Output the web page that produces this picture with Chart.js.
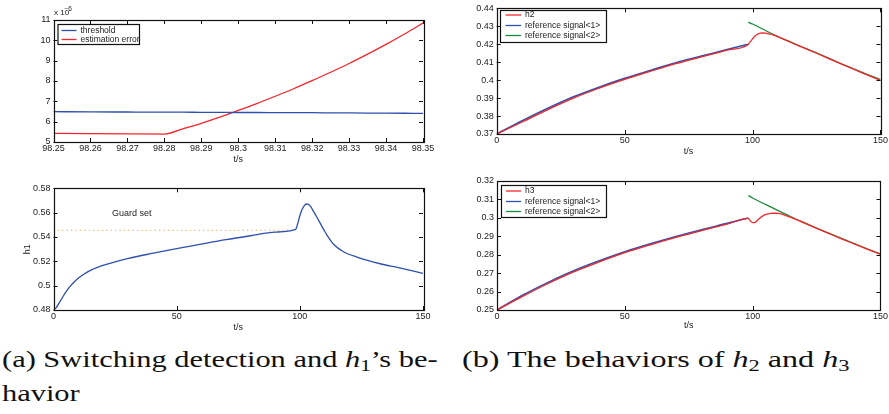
<!DOCTYPE html>
<html>
<head>
<meta charset="utf-8">
<script src="https://cdn.jsdelivr.net/npm/chart.js@4.4.0/dist/chart.umd.min.js"></script>
<style>
  html, body { margin: 0; padding: 0; background: #fff; }
  body { width: 889px; height: 414px; position: relative; overflow: hidden; }
  canvas { position: absolute; }
  .cap { position: absolute; font-family: "Liberation Serif", serif; font-size: 24px; line-height: 1;
         color: #111; white-space: nowrap; transform-origin: 0 50%; }
  .cap sub { font-size: 0.7em; vertical-align: -0.25em; line-height: 0; }
</style>
</head>
<body>
<canvas id="c1" width="440" height="165" style="left:0;top:0"></canvas>
<canvas id="c2" width="440" height="170" style="left:0;top:165px"></canvas>
<canvas id="c3" width="444" height="165" style="left:445px;top:0"></canvas>
<canvas id="c4" width="444" height="170" style="left:445px;top:165px"></canvas>

<div class="cap" id="capA" style="left:2px;top:347px">(a) Switching detection and <i>h</i><sub>1</sub>’s be-</div>
<div class="cap" id="capA2" style="left:2px;top:381px">havior</div>
<div class="cap" id="capB" style="left:462px;top:347px">(b) The behaviors of <i>h</i><sub>2</sub> and <i>h</i><sub>3</sub></div>

<script>
// switching detection, values in units of 1e-6
const detT = [98.25, 98.26, 98.27, 98.28, 98.285, 98.29, 98.295, 98.30, 98.305, 98.31, 98.315, 98.32, 98.325, 98.33, 98.335, 98.34, 98.345, 98.35];
const threshold = [6.49, 6.48, 6.475, 6.47, 6.465, 6.46, 6.455, 6.45, 6.45, 6.445, 6.44, 6.44, 6.435, 6.43, 6.425, 6.42, 6.415, 6.41];
const estError = [5.42, 5.41, 5.40, 5.39, 5.65, 5.92, 6.22, 6.55, 6.89, 7.25, 7.62, 8.02, 8.43, 8.86, 9.32, 9.80, 10.31, 10.85];

// h1
const h1T = [0, 1, 2, 3, 4, 5, 6, 7, 8, 10, 12, 15, 20, 25, 30, 40, 50, 60, 70, 80, 90, 98.3,
             99, 100, 101, 102, 102.6, 103.5, 104.5, 105.6, 107, 108.3, 110, 111, 113.7, 117.7, 123.2, 132.6, 140, 150];
const h1 = [0.480, 0.4818, 0.4848, 0.4882, 0.4915, 0.4946, 0.4975, 0.5000, 0.5022, 0.5060, 0.5090, 0.5125, 0.5166, 0.5196, 0.5222,
            0.5265, 0.5305, 0.5342, 0.5378, 0.5410, 0.5440, 0.5462,
            0.5500, 0.5575, 0.5630, 0.5662, 0.5671, 0.5668, 0.5647, 0.5608, 0.5560, 0.5512, 0.5450, 0.5416, 0.5340, 0.5279, 0.5235,
            0.5180, 0.5148, 0.5101];
const guardT = [0, 98.3];
const guard = [0.5455, 0.5455];

// reference signals
const refT1 = [0, 10, 20, 30, 40, 50, 60, 70, 80, 90, 98.3];
const refT2 = [98.3, 100, 105, 110, 115, 120, 125, 130, 135, 140, 145, 150];

// h2
const h2Ref1 = [0.3700, 0.3774, 0.3843, 0.3907, 0.3961, 0.4010, 0.4054, 0.4097, 0.4134, 0.4171, 0.4200];
const h2Ref2 = [0.4323, 0.4313, 0.4277, 0.4243, 0.4212, 0.4182, 0.4152, 0.4121, 0.4090, 0.4060, 0.4031, 0.4003];
const h2T = [0, 10, 20, 30, 40, 50, 60, 70, 80, 90, 98.3, 99, 100, 101, 102, 103, 104, 105, 106, 107, 108,
             110, 115, 120, 125, 130, 135, 140, 145, 150];
const h2 = [0.3700, 0.3767, 0.3836, 0.3900, 0.3955, 0.4004, 0.4049, 0.4092, 0.4130, 0.4167, 0.4199,
            0.4212, 0.4230, 0.4247, 0.4257, 0.4262, 0.4263, 0.4262, 0.4259, 0.4256, 0.4252,
            0.4241, 0.4210, 0.4180, 0.4150, 0.4119, 0.4088, 0.4058, 0.4028, 0.3999];

// h3
const h3Ref1 = [0.2500, 0.2580, 0.2650, 0.2713, 0.2767, 0.2816, 0.2859, 0.2899, 0.2936, 0.2970, 0.2999];
const h3Ref2 = [0.3121, 0.3108, 0.3073, 0.3039, 0.3006, 0.2975, 0.2945, 0.2916, 0.2887, 0.2859, 0.2831, 0.2804];
const h3T = [0, 10, 20, 30, 40, 50, 60, 70, 80, 90, 98.3, 99, 100, 101, 102, 103, 104, 105, 106, 107, 108,
             109, 110, 111, 112, 113, 114, 115, 120, 125, 130, 135, 140, 145, 150];
const h3 = [0.2500, 0.2574, 0.2644, 0.2707, 0.2761, 0.2811, 0.2854, 0.2894, 0.2931, 0.2966, 0.2997,
            0.2985, 0.2974, 0.2976, 0.2988, 0.3001, 0.3011, 0.3017, 0.3021, 0.3024, 0.3025,
            0.3025, 0.3024, 0.3021, 0.3017, 0.3012, 0.3007, 0.3003, 0.2973, 0.2943, 0.2914, 0.2885, 0.2857, 0.2829, 0.2802];

const BLUE = '#2f50ad', RED = '#f2262b', GREEN = '#1c8a3d', ORANGE = '#f5a24a';

Chart.defaults.font.family = '"Liberation Sans", Arial, sans-serif';
Chart.defaults.font.size = 9;
Chart.defaults.color = '#222';

const pts = (t, v) => t.map((x, i) => ({ x, y: v[i] }));
const fmt = v => String(Number(v.toFixed(4)));

// matlab-like frame, inward ticks, boxed legend and text notes
const matlabBox = {
  id: 'matlabBox',
  afterDraw(chart, args, opts) {
    const { ctx, chartArea: a, scales: { x, y } } = chart;
    ctx.save();
    ctx.strokeStyle = '#111';
    ctx.lineWidth = 1;
    ctx.beginPath();
    x.ticks.forEach(t => {
      const px = Math.round(x.getPixelForValue(t.value)) + 0.5;
      ctx.moveTo(px, a.bottom); ctx.lineTo(px, a.bottom - 4);
      ctx.moveTo(px, a.top); ctx.lineTo(px, a.top + 4);
    });
    y.ticks.forEach(t => {
      const py = Math.round(y.getPixelForValue(t.value)) + 0.5;
      ctx.moveTo(a.left, py); ctx.lineTo(a.left + 4, py);
      ctx.moveTo(a.right, py); ctx.lineTo(a.right - 4, py);
    });
    ctx.stroke();
    ctx.lineWidth = 1.2;
    ctx.strokeRect(Math.round(a.left) + 0.5, Math.round(a.top) + 0.5,
                   Math.round(a.right - a.left), Math.round(a.bottom - a.top));

    const lg = opts.legend;
    if (lg) {
      const [x0, y0, x1, y1] = lg.box;
      ctx.fillStyle = '#fff';
      ctx.fillRect(x0, y0, x1 - x0, y1 - y0);
      ctx.strokeStyle = '#111';
      ctx.lineWidth = 1.2;
      ctx.strokeRect(x0 + 0.5, y0 + 0.5, x1 - x0, y1 - y0);
      ctx.font = '8.5px "Liberation Sans", Arial, sans-serif';
      ctx.textBaseline = 'middle';
      ctx.textAlign = 'left';
      const items = chart.data.datasets.filter(d => d.label);
      items.forEach((d, i) => {
        const ry = lg.rows[i];
        ctx.strokeStyle = d.borderColor;
        ctx.lineWidth = 1.3;
        ctx.beginPath();
        ctx.moveTo(lg.lineX[0], ry); ctx.lineTo(lg.lineX[1], ry);
        ctx.stroke();
        ctx.fillStyle = '#222';
        ctx.fillText(d.label, lg.textX, ry);
      });
    }

    (opts.notes || []).forEach(n => {
      ctx.fillStyle = '#222';
      ctx.textBaseline = 'middle';
      ctx.textAlign = 'left';
      ctx.font = n.font || '9px "Liberation Sans", Arial, sans-serif';
      const px = n.data ? x.getPixelForValue(n.data[0]) : a.left + n.dx;
      const py = n.data ? y.getPixelForValue(n.data[1]) : a.top + n.dy;
      ctx.fillText(n.text, px, py);
    });
    ctx.restore();
  }
};

function panel(id, cfg) {
  return new Chart(document.getElementById(id), {
    type: 'line',
    data: { datasets: cfg.datasets },
    options: {
      responsive: false,
      animation: false,
      layout: { padding: { top: cfg.top, right: cfg.right, left: 0, bottom: 0 } },
      elements: {
        point: { radius: 0 },
        line: { borderWidth: 1.3, cubicInterpolationMode: 'monotone' }
      },
      plugins: { legend: { display: false }, tooltip: { enabled: false }, matlabBox: cfg.box },
      scales: {
        x: {
          type: 'linear', min: cfg.x[0], max: cfg.x[1],
          ticks: { stepSize: cfg.x[2], padding: 1, autoSkip: false, maxRotation: 0, callback: fmt },
          grid: { display: false, drawTicks: false }, border: { display: false },
          title: { display: true, text: 't/s', padding: { top: 0, bottom: cfg.titlePad } },
          afterFit: s => { s.height = cfg.xH; }
        },
        y: {
          min: cfg.y[0], max: cfg.y[1],
          ticks: { stepSize: cfg.y[2], padding: 3, autoSkip: false, callback: fmt },
          grid: { display: false, drawTicks: false }, border: { display: false },
          title: cfg.yTitle ? { display: true, text: cfg.yTitle, padding: { top: cfg.yTitlePad, bottom: 0 } } : { display: false },
          afterFit: s => { s.width = cfg.yW; }
        }
      }
    },
    plugins: [matlabBox]
  });
}

panel('c1', {
  top: 20, right: 17, xH: 23, yW: 53.5, titlePad: 0,
  x: [98.25, 98.35, 0.01], y: [5, 11, 1],
  datasets: [
    { label: 'threshold', data: pts(detT, threshold), borderColor: BLUE },
    { label: 'estimation error', data: pts(detT, estError), borderColor: RED }
  ],
  box: {
    legend: { box: [57.5, 24, 139, 44], lineX: [61.5, 76.5], textX: 80.5, rows: [30.5, 39.5] },
    notes: [
      { text: 'x 10', dx: 0.5, dy: -7, font: '8px "Liberation Sans", Arial, sans-serif' },
      { text: '−6', dx: 11, dy: -10.5, font: '6.5px "Liberation Sans", Arial, sans-serif' }
    ]
  }
});

panel('c2', {
  top: 23.3, right: 17, xH: 25, yW: 53.5, titlePad: 2, yTitle: 'h1', yTitlePad: 22,
  x: [0, 150, 50], y: [0.48, 0.58, 0.02],
  datasets: [
    { data: pts(h1T, h1), borderColor: BLUE },
    { data: pts(guardT, guard), borderColor: ORANGE, borderWidth: 1, borderDash: [1.2, 3.2] }
  ],
  box: { notes: [{ text: 'Guard set', data: [23.7, 0.5595] }] }
});

panel('c3', {
  top: 6, right: 7, xH: 31, yW: 51.7, titlePad: 8,
  x: [0, 150, 50], y: [0.37, 0.44, 0.01],
  datasets: [
    { label: 'h2', data: pts(h2T, h2), borderColor: RED },
    { label: 'reference signal<1>', data: pts(refT1, h2Ref1), borderColor: BLUE, borderWidth: 1.6 },
    { label: 'reference signal<2>', data: pts(refT2, h2Ref2), borderColor: GREEN }
  ],
  box: { legend: { box: [55, 10, 161, 42], lineX: [60.5, 76], textX: 80, rows: [15, 25.5, 35.5] } }
});

panel('c4', {
  top: 16, right: 7, xH: 25, yW: 52, titlePad: 4,
  x: [0, 150, 50], y: [0.25, 0.32, 0.01],
  datasets: [
    { label: 'h3', data: pts(h3T, h3), borderColor: RED },
    { label: 'reference signal<1>', data: pts(refT1, h3Ref1), borderColor: BLUE, borderWidth: 1.6 },
    { label: 'reference signal<2>', data: pts(refT2, h3Ref2), borderColor: GREEN }
  ],
  box: { legend: { box: [56, 20, 161, 52], lineX: [61, 76], textX: 80, rows: [26, 36.5, 46.5] } }
});

// stretch the serif captions to the widths of the original typesetting
const capA = document.getElementById('capA');
const capB = document.getElementById('capB');
const sA = 436 / capA.offsetWidth;
capA.style.transform = `scaleX(${sA})`;
document.getElementById('capA2').style.transform = `scaleX(${sA})`;
capB.style.transform = `scaleX(${388 / capB.offsetWidth})`;
</script>
</body>
</html>
